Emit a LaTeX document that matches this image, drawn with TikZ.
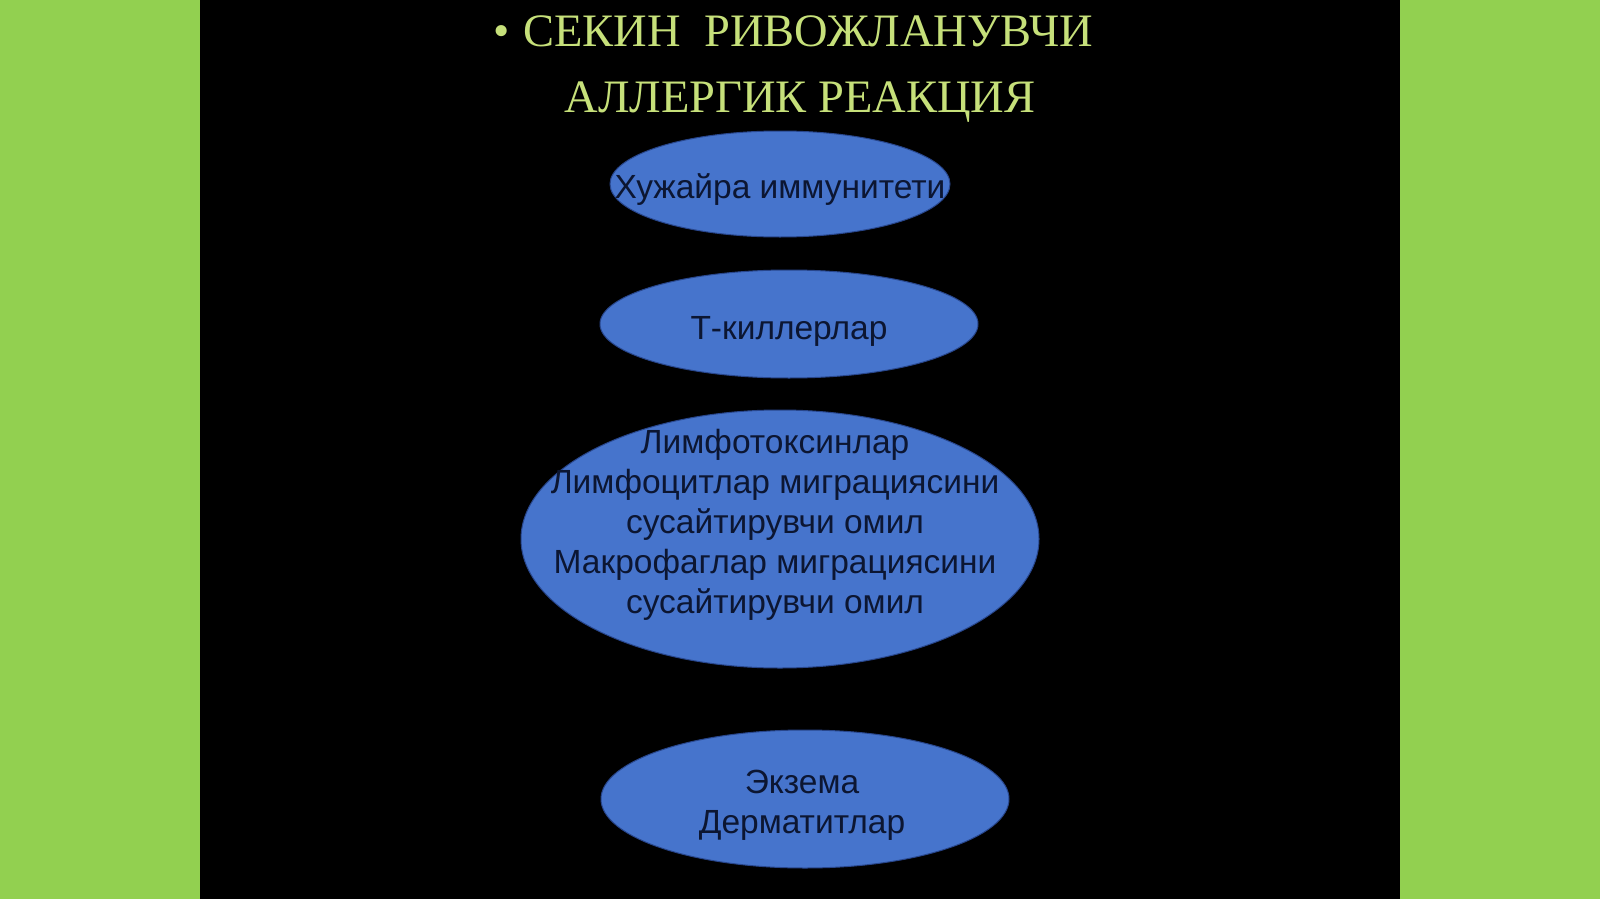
\documentclass[tikz,border=0pt]{standalone}
\usepackage{fontspec}
\setmainfont{Liberation Sans}
\newfontfamily\titlefont{Liberation Serif}
\usetikzlibrary{shapes.geometric}
\definecolor{bggreen}{RGB}{146,208,80}
\definecolor{titlecol}{RGB}{198,224,122}
\definecolor{ellfill}{RGB}{70,116,204}
\definecolor{ellline}{RGB}{40,70,140}
\definecolor{txtcol}{RGB}{12,22,50}
\tikzset{
  oval/.style={ellipse, fill=ellfill, draw=ellline, line width=1pt, inner sep=0pt},
  bodytext/.style={text=txtcol, font=\fontsize{33.5}{40}\selectfont, align=center, inner sep=0pt},
  titletext/.style={text=titlecol, font=\titlefont\fontsize{46.5}{52}\selectfont, anchor=base, inner sep=0pt}
}
\begin{document}
\begin{tikzpicture}[x=1pt,y=-1pt]
\useasboundingbox (0,0) rectangle (1600,899);
\fill[bggreen] (0,0) rectangle (1600,899);
\fill[black] (200,0) rectangle (1400,899);
% title
\node[titletext] (title1) at (793,47) {•\hspace{0.3em}СЕКИН\ \ РИВОЖЛАНУВЧИ};
\node[titletext] (title2) at (800,112) {АЛЛЕРГИК РЕАКЦИЯ};
% ellipses
\node[oval, minimum width=340pt, minimum height=106pt] (e1) at (780,184) {};
\node[oval, minimum width=378pt, minimum height=108pt] (e2) at (789,324) {};
\node[oval, minimum width=518pt, minimum height=258pt] (e3) at (780,539) {};
\node[oval, minimum width=408pt, minimum height=138pt] (e4) at (805,799) {};
% texts
\node[bodytext] (t1) at (780,190) {Хужайра иммунитети};
\node[bodytext] (t2) at (789,331) {Т-киллерлар};
\node[bodytext] (t3) at (775,525) {Лимфотоксинлар\\Лимфоцитлар миграциясини\\сусайтирувчи омил\\Макрофаглар миграциясини\\сусайтирувчи омил};
\node[bodytext] (t4) at (802,805) {Экзема\\Дерматитлар};
\end{tikzpicture}
\end{document}
